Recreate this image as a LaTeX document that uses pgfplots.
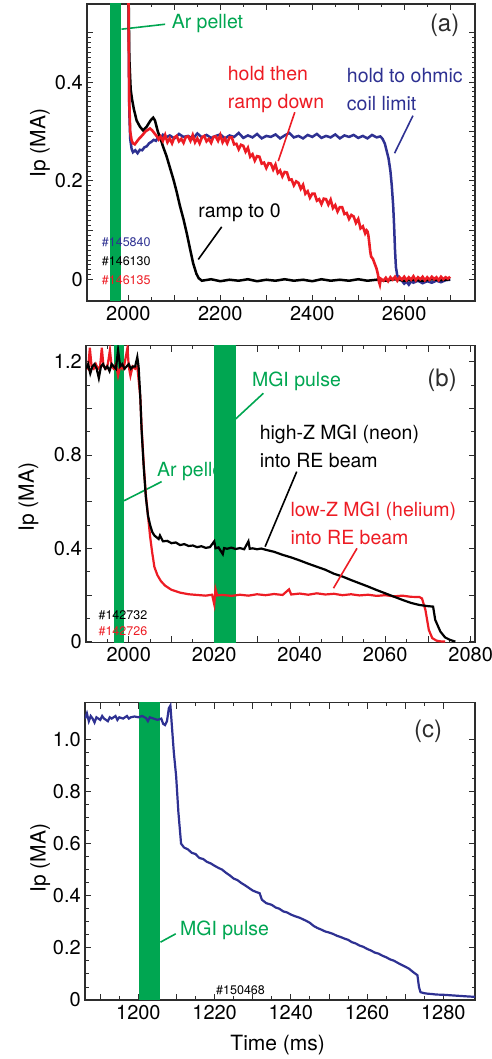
\documentclass[border=0pt]{standalone}
\usepackage{fontspec}
\setmainfont{TeX Gyre Heros}
\usepackage{pgfplots}
\pgfplotsset{compat=1.18}
\definecolor{pgreen}{RGB}{0,166,81}
\definecolor{pred}{RGB}{237,28,36}
\definecolor{pblue}{RGB}{46,49,146}
\definecolor{pframe}{RGB}{45,45,45}
\newcommand{\tickfont}{\fontsize{20}{22}\selectfont}
\newcommand{\annfont}{\fontsize{19.5}{28}\selectfont}
\newcommand{\shotfont}{\fontsize{12.5}{14}\selectfont}
\newcommand{\panelfont}{\fontsize{24}{26}\selectfont}
\pgfplotsset{
  ipbox/.style={
    scale only axis, anchor=south west,
    axis line style={pframe, line width=1.2pt},
    tick style={pframe, line width=0.9pt},
    major tick length=6pt, minor tick length=3.5pt,
    tick align=inside, xtick pos=both, ytick pos=both,
    /pgf/number format/assume math mode=true,
    ticklabel style={font=\tickfont},
    yticklabel style={inner sep=1pt, xshift=-3pt},
    xticklabel style={inner sep=1pt, yshift=-4pt},
    ylabel={Ip (MA)},
    ylabel style={font=\fontsize{21}{24}\selectfont, anchor=center},
  },
}
\begin{document}
\begin{tikzpicture}
\useasboundingbox (0,0) rectangle (491pt,1059pt);

% ---------------- (a)
\begin{axis}[ipbox, at={(87pt,758pt)}, width=388pt, height=297pt,
  xmin=1910, xmax=2754, ymin=-0.043, ymax=0.558,
  xtick={2000,2100,...,2700}, xticklabels={2000,,2200,,2400,,2600,},
  ytick={0,0.1,...,0.5}, yticklabels={0,,0.2,,0.4,},
  minor x tick num=1, minor y tick num=9,
  ylabel style={at={(axis description cs:-0.121,0.532)}}]
\addplot[fill=pgreen, draw=none] coordinates {(1960,-1) (1985,-1) (1985,1) (1960,1)} -- cycle;
\draw[pgreen, line width=1.6pt] (axis cs:1985,0.507) -- (axis cs:2080,0.517);
\node[anchor=west, text=pgreen, font=\annfont, inner sep=0pt] at (axis cs:2094,0.519) {Ar pellet};
\node[font=\panelfont, text=pframe] at (axis cs:2688,0.515) {(a)};
% blue #145840
\addplot[pblue, line width=2.5pt] coordinates {
(1999,0.9) (2000,0.62) (2001,0.45) (2002,0.34) (2004,0.285) (2007,0.265) (2010,0.258) (2015,0.262) (2020,0.256)
(2025,0.263) (2030,0.262) (2035,0.268) (2040,0.27) (2045,0.276) (2050,0.279) (2055,0.283) (2060,0.281) (2065,0.289)
(2070,0.286) (2075,0.293) (2080,0.287) (2090,0.292) (2100,0.286) (2110,0.295) (2120,0.289) (2130,0.291) (2140,0.285)
(2150,0.296) (2160,0.288) (2170,0.293) (2180,0.287) (2190,0.291) (2200,0.294) (2210,0.286) (2220,0.292) (2230,0.289)
(2240,0.297) (2250,0.287) (2260,0.292) (2270,0.288) (2280,0.295) (2290,0.286) (2300,0.291) (2310,0.289) (2320,0.294)
(2330,0.286) (2340,0.292) (2350,0.297) (2360,0.288) (2370,0.291) (2380,0.286) (2390,0.293) (2400,0.289) (2410,0.295)
(2420,0.287) (2430,0.291) (2440,0.288) (2450,0.294) (2460,0.286) (2470,0.292) (2480,0.289) (2490,0.293) (2500,0.287)
(2510,0.291) (2520,0.286) (2530,0.293) (2540,0.288) (2548,0.29) (2553,0.285) (2558,0.275) (2562,0.26) (2566,0.245)
(2570,0.22) (2573,0.19) (2576,0.15) (2578,0.11) (2580,0.06) (2582,0.025) (2585,0.008) (2590,0.003) (2595,-0.002)
(2600,-0.008) (2605,-0.004) (2610,-0.01) (2615,-0.003) (2620,-0.006) (2630,-0.002) (2640,-0.007) (2650,-0.003)
(2660,-0.006) (2670,-0.002) (2680,-0.005) (2690,-0.001) (2700,0.0)};
% black #146130
\addplot[black, line width=2.5pt] coordinates {
(1999,0.9) (2000,0.62) (2002,0.45) (2005,0.385) (2008,0.365) (2012,0.345) (2018,0.322) (2025,0.31) (2032,0.302)
(2040,0.31) (2048,0.322) (2054,0.328) (2058,0.322) (2064,0.30) (2070,0.285) (2076,0.268) (2083,0.25) (2090,0.228)
(2098,0.203) (2105,0.178) (2112,0.15) (2120,0.122) (2127,0.094) (2134,0.063) (2141,0.033) (2148,0.012) (2153,0.003)
(2160,-0.002) (2180,0.001) (2200,-0.003) (2220,0.0) (2240,-0.002) (2260,0.001) (2280,-0.003) (2300,0.0) (2320,-0.002)
(2340,0.001) (2360,-0.002) (2380,0.0) (2400,-0.003) (2420,0.001) (2440,-0.002) (2460,0.0) (2480,-0.002) (2500,0.001)
(2520,-0.002) (2540,0.0) (2560,-0.002) (2580,0.001) (2600,-0.002) (2620,0.0) (2640,-0.002) (2660,0.001) (2680,-0.001) (2700,0.001)};
% red #146135
\addplot[pred, line width=2.6pt] coordinates {
(1999,0.9) (2000,0.62) (2001,0.45) (2002,0.36) (2004,0.30) (2007,0.282) (2010,0.276) (2014,0.274) (2018,0.279)
(2022,0.284) (2027,0.289) (2032,0.294) (2037,0.30) (2042,0.303) (2047,0.306) (2052,0.302) (2057,0.296) (2062,0.29)
(2066,0.284) (2070,0.290) (2075,0.281) (2080,0.293) (2085,0.278) (2090,0.286) (2095,0.276) (2100,0.288) (2105,0.291)
(2110,0.280) (2115,0.285) (2120,0.277) (2125,0.289) (2130,0.290) (2135,0.281) (2140,0.293) (2145,0.278) (2150,0.286)
(2155,0.276) (2160,0.288) (2165,0.291) (2170,0.280) (2175,0.285) (2180,0.277) (2185,0.289) (2190,0.290) (2195,0.281)
(2200,0.293) (2205,0.278) (2210,0.286) (2215,0.276) (2220,0.288) (2225,0.288) (2230,0.274) (2235,0.275) (2240,0.264)
(2245,0.273) (2250,0.271) (2255,0.259) (2260,0.267) (2265,0.249) (2270,0.254) (2275,0.241) (2280,0.250) (2285,0.249)
(2290,0.235) (2295,0.237) (2300,0.226) (2305,0.236) (2310,0.235) (2315,0.223) (2320,0.233) (2325,0.216) (2330,0.221)
(2335,0.209) (2340,0.218) (2345,0.217) (2350,0.202) (2355,0.203) (2360,0.191) (2365,0.199) (2370,0.196) (2375,0.184)
(2380,0.192) (2385,0.174) (2390,0.179) (2395,0.166) (2400,0.174) (2405,0.174) (2410,0.160) (2415,0.163) (2420,0.153)
(2425,0.164) (2430,0.163) (2435,0.152) (2440,0.162) (2445,0.145) (2450,0.151) (2455,0.138) (2460,0.147) (2465,0.147)
(2470,0.133) (2475,0.135) (2480,0.123) (2485,0.131) (2490,0.128) (2495,0.115) (2500,0.123) (2505,0.104) (2510,0.108)
(2515,0.094) (2518,0.1) (2520,0.098) (2522,0.09) (2524,0.075) (2526,0.058) (2528,0.047) (2532,0.042) (2536,0.032)
(2540,0.022) (2543,0.01) (2545,-0.004) (2547,-0.01) (2549,0.002) (2555,-0.002) (2560,0.004) (2565,-0.003) (2570,0.005)
(2575,0.0) (2580,0.006) (2585,-0.002) (2590,0.005) (2595,0.0) (2600,0.006) (2605,-0.001) (2610,0.005) (2615,0.0)
(2620,0.007) (2625,-0.001) (2630,0.005) (2635,0.001) (2640,0.006) (2645,-0.001) (2650,0.005) (2655,0.0) (2660,0.006)
(2665,0.001) (2670,0.005) (2675,-0.001) (2680,0.006) (2685,0.001) (2690,0.005) (2695,0.002) (2700,0.006)};
\draw[pred, line width=1.6pt] (axis cs:2362,0.339) -- (axis cs:2326,0.24);
\draw[pblue, line width=1.6pt] (axis cs:2619,0.332) -- (axis cs:2579,0.256);
\draw[black, line width=1.6pt] (axis cs:2203,0.107) -- (axis cs:2152,0.041);
\node[anchor=west, text=pred, font=\annfont, align=left, inner sep=0pt] at (axis cs:2216,0.385) {hold then\\ramp down};
\node[anchor=west, text=pblue, font=\annfont, align=left, inner sep=0pt] at (axis cs:2475,0.385) {hold to ohmic\\coil limit};
\node[anchor=west, text=black, font=\annfont, inner sep=0pt] at (axis cs:2152,0.135) {ramp to 0};
\node[anchor=west, text=pblue, font=\shotfont, inner sep=0pt] at (axis cs:1942,0.075) {\#145840};
\node[anchor=west, text=black, font=\shotfont, inner sep=0pt] at (axis cs:1942,0.038) {\#146130};
\node[anchor=west, text=pred, font=\shotfont, inner sep=0pt] at (axis cs:1942,0.0) {\#146135};
\end{axis}

% ---------------- (b)
\begin{axis}[ipbox, at={(86pt,416.7pt)}, width=389pt, height=296.6pt,
  xmin=1990, xmax=2081, ymin=-0.003, ymax=1.269,
  xtick={1990,2000,...,2080}, xticklabels={,2000,,2020,,2040,,2060,,2080},
  ytick={0,0.2,...,1.2}, yticklabels={0,,0.4,,0.8,,1.2},
  minor x tick num=1, minor y tick num=1,
  ylabel style={at={(axis description cs:-0.148,0.49)}}]
\addplot[fill=pgreen, draw=none] coordinates {(1996.5,-1) (1999,-1) (1999,2) (1996.5,2)} -- cycle;
\draw[pgreen, line width=1.6pt] (axis cs:1998.9,0.604) -- (axis cs:2007.7,0.686);
\node[anchor=west, text=pgreen, font=\annfont, inner sep=0pt] at (axis cs:2006.6,0.729) {Ar pellet};
\addplot[fill=pgreen, draw=none] coordinates {(2020,-1) (2025,-1) (2025,2) (2020,2)} -- cycle;
\draw[pgreen, line width=1.6pt] (axis cs:2024.9,0.953) -- (axis cs:2031.5,1.065);
\node[anchor=west, text=pgreen, font=\annfont, inner sep=0pt] at (axis cs:2028.8,1.114) {MGI pulse};
\node[font=\panelfont, text=pframe] at (axis cs:2073.3,1.122) {(b)};
% red #142726
\addplot[pred, line width=2.2pt] coordinates {
(1990,1.18) (1990.5,1.17) (1990.9,1.26) (1991.3,1.18) (1991.8,1.17) (1992.3,1.19) (1992.8,1.17) (1993.3,1.18)
(1993.7,1.26) (1994.1,1.18) (1994.6,1.17) (1995.1,1.19) (1995.6,1.25) (1996,1.18) (1996.5,1.17) (1997,1.19)
(1997.5,1.14) (1998,1.18) (1998.5,1.17) (1999,1.19) (1999.7,1.26) (2000,1.18) (2000.4,1.14) (2000.9,1.18)
(2001.5,1.17) (2002,1.18) (2002.7,1.05) (2003,0.92) (2003.5,0.76) (2004,0.63) (2004.5,0.54) (2005,0.45)
(2005.5,0.38) (2006,0.32) (2006.7,0.285) (2007.5,0.26) (2008.5,0.24) (2010,0.222) (2012,0.21) (2014,0.203)
(2016,0.2) (2018,0.197) (2019.5,0.201) (2020,0.16) (2020.3,0.225) (2020.7,0.198) (2022,0.2) (2024,0.196)
(2026,0.201) (2028,0.197) (2030,0.203) (2032,0.199) (2034,0.204) (2036,0.2) (2037.5,0.224) (2038,0.202)
(2040,0.206) (2042,0.201) (2044,0.207) (2046,0.202) (2048,0.205) (2050,0.199) (2052,0.203) (2054,0.198)
(2056,0.201) (2058,0.196) (2060,0.199) (2062,0.194) (2064,0.197) (2066,0.192) (2068,0.191) (2068.6,0.185)
(2069.4,0.136) (2070.2,0.05) (2071,0.015) (2072,0.004) (2073.3,0.0) (2074,0.0)};
% black #142732
\addplot[black, line width=2.2pt] coordinates {
(1990,1.17) (1990.5,1.19) (1991,1.15) (1991.5,1.18) (1992,1.19) (1992.5,1.17) (1993,1.13) (1993.5,1.18)
(1994,1.19) (1994.5,1.17) (1995,1.18) (1995.5,1.16) (1996,1.19) (1996.5,1.18) (1997,1.17) (1997.5,1.25)
(1998,1.18) (1998.5,1.19) (1999,1.17) (1999.5,1.18) (2000,1.19) (2000.5,1.17) (2001,1.18) (2001.5,1.18)
(2002,1.22) (2002.3,1.18) (2002.7,1.05) (2003,0.91) (2003.5,0.75) (2004,0.62) (2004.5,0.54) (2005,0.5)
(2005.5,0.47) (2006,0.455) (2007,0.44) (2007.3,0.455) (2008,0.43) (2009,0.432) (2010,0.422) (2011,0.425)
(2012,0.414) (2013,0.418) (2014,0.41) (2015,0.412) (2016,0.405) (2017,0.409) (2018,0.402) (2019,0.405)
(2020,0.43) (2020.3,0.4) (2021,0.404) (2022,0.375) (2022.3,0.401) (2023,0.398) (2024,0.403) (2025,0.397)
(2026,0.401) (2027,0.396) (2028,0.43) (2028.3,0.398) (2029,0.4) (2030,0.396) (2031,0.399) (2032,0.394)
(2034,0.385) (2036,0.372) (2038,0.361) (2040,0.348) (2042,0.334) (2044,0.321) (2046,0.308) (2048,0.291)
(2050,0.279) (2052,0.264) (2054,0.25) (2056,0.236) (2058,0.221) (2060,0.207) (2062,0.193) (2064,0.179)
(2066,0.166) (2068,0.157) (2070,0.152) (2071.2,0.15) (2071.7,0.093) (2072.9,0.043) (2074,0.018) (2075.2,0.007)
(2076.4,0.0)};
\draw[black, line width=1.6pt] (axis cs:2031.9,0.407) -- (axis cs:2039.3,0.729);
\draw[pred, line width=1.6pt] (axis cs:2047.9,0.229) -- (axis cs:2053.4,0.4);
\node[anchor=west, text=black, font=\annfont, align=left, inner sep=0pt] at (axis cs:2030.6,0.8375) {high-Z MGI (neon)\\into RE beam};
\node[anchor=west, text=pred, font=\annfont, align=left, inner sep=0pt] at (axis cs:2037.8,0.509) {low-Z MGI (helium)\\into RE beam};
\node[anchor=west, text=black, font=\shotfont, inner sep=0pt] at (axis cs:1992.9,0.114) {\#142732};
\node[anchor=west, text=pred, font=\shotfont, inner sep=0pt] at (axis cs:1992.9,0.043) {\#142726};
\end{axis}

% ---------------- (c)
\begin{axis}[ipbox, at={(85pt,59pt)}, width=390pt, height=297.3pt,
  xmin=1186, xmax=1288.3, ymin=0, ymax=1.141,
  xtick={1190,1200,...,1280}, xticklabels={,1200,,1220,,1240,,1260,,1280},
  ytick={0,0.2,...,1.0}, yticklabels={0,0.2,0.4,0.6,0.8,1.0},
  minor x tick num=1, minor y tick num=3,
  xlabel={Time (ms)}, xlabel style={font=\fontsize{21}{24}\selectfont, at={(axis description cs:0.494,-0.152)}, anchor=center},
  ylabel style={at={(axis description cs:-0.115,0.477)}}]
\addplot[fill=pgreen, draw=none] coordinates {(1200.1,-1) (1205.8,-1) (1205.8,2) (1200.1,2)} -- cycle;
\draw[pgreen, line width=1.6pt] (axis cs:1205.8,0.222) -- (axis cs:1209.8,0.254);
\node[anchor=west, text=pgreen, font=\annfont, inner sep=0pt] at (axis cs:1210.9,0.269) {MGI pulse};
\node[font=\panelfont, text=pframe] at (axis cs:1276,1.03) {(c)};
\addplot[pblue, line width=2.2pt] coordinates {
(1186,1.08) (1186.5,1.1) (1187,1.07) (1187.5,1.09) (1188,1.08) (1188.5,1.065) (1189,1.085) (1190,1.075)
(1190.5,1.09) (1191,1.08) (1192,1.07) (1192.5,1.085) (1193,1.08) (1194,1.09) (1194.5,1.075) (1195,1.085)
(1196,1.08) (1197,1.09) (1197.5,1.08) (1198,1.085) (1199,1.088) (1200,1.085) (1201,1.09) (1202,1.082)
(1202.5,1.07) (1203,1.085) (1204,1.08) (1205,1.075) (1206,1.08) (1206.5,1.06) (1207,1.055) (1207.5,1.07)
(1208,1.12) (1208.4,1.13) (1208.8,1.05) (1209.3,0.95) (1209.9,0.86) (1210.5,0.72) (1211.2,0.6) (1212,0.585)
(1213,0.578) (1214,0.565) (1215,0.56) (1216,0.545) (1217,0.541) (1218,0.53) (1219,0.524) (1220,0.515)
(1221,0.507) (1222,0.5) (1223,0.488) (1224,0.478) (1225,0.466) (1226,0.46) (1227,0.449) (1228,0.44)
(1229,0.43) (1230,0.42) (1231,0.414) (1231.8,0.41) (1232.4,0.385) (1233.5,0.372) (1235,0.365) (1236,0.355)
(1237,0.35) (1238,0.34) (1239,0.336) (1240,0.328) (1241,0.322) (1242.4,0.315) (1244,0.304) (1245,0.296)
(1246,0.284) (1247,0.276) (1248,0.27) (1249,0.263) (1250,0.259) (1251,0.254) (1252,0.247) (1253,0.242)
(1254,0.236) (1255,0.231) (1256,0.222) (1257,0.217) (1258,0.209) (1259,0.204) (1260,0.196) (1261,0.19)
(1262,0.182) (1263,0.178) (1264,0.17) (1265,0.164) (1266,0.156) (1267,0.151) (1268.6,0.138) (1270,0.128)
(1271,0.12) (1272,0.108) (1273.2,0.095) (1273.6,0.05) (1274,0.03) (1275,0.026) (1276,0.024) (1277,0.023)
(1278,0.021) (1280,0.02) (1282,0.018) (1284,0.016) (1286,0.014) (1288.3,0.012)};
\node[font=\shotfont, text=black] at (axis cs:1226.8,0.036) {\#150468};
\end{axis}
\end{tikzpicture}
\end{document}
